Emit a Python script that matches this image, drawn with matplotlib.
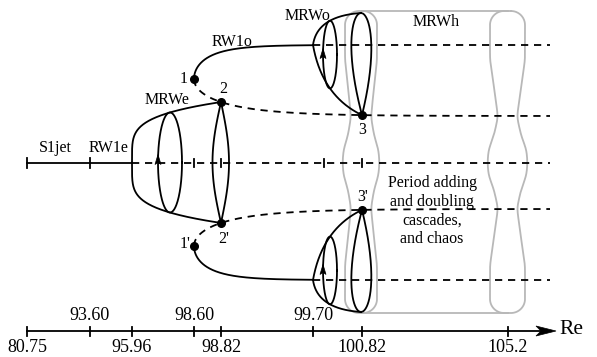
import numpy as np
import matplotlib.pyplot as plt
from matplotlib.patches import Polygon

plt.rcParams['font.family'] = ['Liberation Serif', 'DejaVu Serif']

# Re values written on the (schematic, non-linear) axis and where they sit
lower_labels = ["80.75", "95.96", "98.82", "100.82", "105.2"]
lower_x = [27, 132, 221, 362, 508]
upper_labels = ["93.60", "98.60", "99.70"]
upper_x = [90, 194, 313]
mid_ticks = [194, 221, 324, 362]

# branch levels in the sketch (pixels from the top)
y_mid = 162.5
y_rw1o = 45      # stable RW1o
y_unst = 116     # unstable RW1o
y_fold = 79      # saddle-node point 1

branch_names = ["S1jet", "RW1e", "MRWe", "RW1o", "MRWo", "MRWh"]

pos = dict(zip(lower_labels + upper_labels, lower_x + upper_x))
x_e = pos["95.96"]    # MRWe starts
x1 = pos["98.60"]     # point 1
x2 = pos["98.82"]     # point 2
x_o = pos["99.70"]    # MRWo starts
x3 = pos["100.82"]    # point 3
x_h = pos["105.2"]
x_end = 550

K = "black"
G = "#b8b8b8"
LW = 1.3
DASH = (0, (4, 3.2))


def mir(y):
    return 2 * y_mid - np.asarray(y)


fig = plt.figure(figsize=(5.97, 3.57), dpi=100)
ax = fig.add_axes([0, 0, 1, 1])
ax.set_xlim(0, 597)
ax.set_ylim(357, 0)
ax.axis("off")


def both(x, y, **kw):
    ax.plot(x, y, **kw)
    ax.plot(x, mir(y), **kw)


# ---- gray MRWh columns
def column(xc, w0, wmin, wmax):
    yt, yb, r = 11, 313, 14
    cy = [yt, 60, 90, 117, 135, 150, y_mid]
    d = w0 - wmin
    cw = [w0, w0, wmin + 0.45 * d, wmin, wmin + 0.5 * d, wmax - 1, wmax]
    cy = cy + list(mir(cy[::-1][1:]))
    cw = cw + cw[::-1][1:]
    yy = np.arange(yt, yb + 0.25, 0.5)
    w = np.interp(yy, cy, cw)
    k = np.exp(-0.5 * (np.arange(-20, 21) / 8.0) ** 2)
    w = np.convolve(np.pad(w, 20, mode="edge"), k / k.sum(), mode="valid")
    keep = (yy >= yt + r) & (yy <= yb - r)
    yy, w = yy[keep], w[keep]
    a = np.linspace(0, np.pi / 2, 25)
    xs = list(xc + w0 - r + r * np.sin(a)); ys = list(yt + r - r * np.cos(a))
    xs += list(xc + w); ys += list(yy)
    xs += list(xc + w0 - r + r * np.cos(a)); ys += list(yb - r + r * np.sin(a))
    xs += list(xc - w0 + r - r * np.sin(a)); ys += list(yb - r + r * np.cos(a))
    xs += list(xc - w[::-1]); ys += list(yy[::-1])
    xs += list(xc - w0 + r - r * np.cos(a)); ys += list(yt + r - r * np.sin(a))
    xs.append(xs[0]); ys.append(ys[0])
    ax.plot(xs, ys, color=G, lw=1.3, zorder=1)


column(x3 - 1, 16, 10, 18.5)
column(x_h - 0.5, 17.5, 9.5, 20)
ax.plot([x3, x_h], [11, 11], color=G, lw=1.3, zorder=1)
ax.plot([x3, x_h], [313, 313], color=G, lw=1.3, zorder=1)

# ---- middle line: S1jet / RW1e solid, then dashed
ax.plot([27, x_e], [y_mid, y_mid], color=K, lw=LW)
ax.plot([x_e, x_end], [y_mid, y_mid], color=K, lw=LW, ls=DASH)
for xt in [27, pos["93.60"]]:
    ax.plot([xt, xt], [y_mid - 5, y_mid + 5], color=K, lw=LW)
for xt in mid_ticks:
    ax.plot([xt, xt], [y_mid - 4, y_mid + 4], color=K, lw=LW)

# ---- RW1o branches (saddle-node at point 1)
t = np.linspace(0, 1, 400)
xs = x1 + (x_o - x1) * t ** 2
ys = y_fold - (y_fold - y_rw1o) * np.sqrt(1 - np.exp(-(xs - x1) / 27))
both(xs, ys, color=K, lw=LW)
both([x_o, x_end], [y_rw1o, y_rw1o], color=K, lw=LW, ls=DASH)

xu = x1 + (x_end - x1) * t ** 2
yu = y_fold + (y_unst - y_fold) * np.sqrt(1 - np.exp(-(xu - x1) / 55))
both(xu, yu, color=K, lw=LW, ls=DASH)
y2 = np.interp(x2, xu, yu)
y3 = np.interp(x3, xu, yu)

# ---- MRWe
yy = np.linspace(y_mid, y2, 200)
xx = x_e + (x2 - x_e) * ((y_mid - yy) / (y_mid - y2)) ** 4.5
both(xx, yy, color=K, lw=LW)
xe_c = 170
ye_top = np.interp(xe_c, xx, yy)
a = np.linspace(0, 2 * np.pi, 200)
ax.plot(xe_c + 12 * np.cos(a), y_mid + (y_mid - ye_top) * np.sin(a), color=K, lw=LW)
s = np.linspace(0, 1, 100)
yl = y2 + (mir(y2) - y2) * s
ax.plot(x2 - 8.5 * np.sin(np.pi * s), yl, color=K, lw=LW)
ax.plot(x2 + 8 * np.sin(np.pi * s), yl, color=K, lw=LW)


def head(x, y):
    ax.add_patch(Polygon([(x, y), (x - 3, y + 10), (x, y + 8), (x + 3, y + 10)],
                         closed=True, color=K, lw=0.5, zorder=5))


head(xe_c - 12, y_mid - 8)

# ---- MRWo lobes
def bez(p0, p1, p2):
    return ((1 - t) ** 2 * p0[0] + 2 * t * (1 - t) * p1[0] + t ** 2 * p2[0],
            (1 - t) ** 2 * p0[1] + 2 * t * (1 - t) * p1[1] + t ** 2 * p2[1])


top_y = 13
bxu, byu = bez((x_o, y_rw1o), (x_o + 4, 16), (x3 - 1, top_y))
bxl, byl = bez((x_o, y_rw1o), (x_o + 9, 96), (x3, y3))
both(bxu, byu, color=K, lw=LW)
both(bxl, byl, color=K, lw=LW)
xo_c = 330
yo_t = np.interp(xo_c, bxu, byu)
yo_b = np.interp(xo_c, bxl, byl)
yc = (yo_t + yo_b) / 2
ex = xo_c + 7 * np.cos(a)
ey = yc + (yo_b - yo_t) / 2 * np.sin(a)
both(ex, ey, color=K, lw=LW)
head(xo_c - 7, yc - 6)
head(xo_c - 7, mir(yc) - 6)

# teardrop from the top down to point 3
sd = np.linspace(0, 1, 200)
wd = np.sqrt(sd) * (1 - sd) / 0.385 * 10
yd = top_y + (y3 - top_y) * sd
tx = np.concatenate([x3 - 1 - wd + sd, (x3 - 1 + wd + sd)[::-1]])
ty = np.concatenate([yd, yd[::-1]])
both(tx, ty, color=K, lw=LW)

# ---- points
px = [x1, x2, x3]
py = [y_fold, y2, y3]
both(px, py, ls="none", marker="o", ms=5.5, color=K, zorder=6)

# ---- Re axis
ya = 331
ax.plot([27, 542], [ya, ya], color=K, lw=LW)
ax.add_patch(Polygon([(556, ya), (536, ya - 5), (541, ya), (536, ya + 5)],
                     closed=True, color=K, lw=0.5))
for xt in lower_x + upper_x:
    ax.plot([xt, xt], [ya - 4.5, ya + 4.5], color=K, lw=LW)
for lab, xt in zip(lower_labels, lower_x):
    ax.text(xt, 348, lab, fontsize=13, ha="center", va="center")
for lab, xt in zip(upper_labels, upper_x):
    ax.text(xt, 315, lab, fontsize=13, ha="center", va="center")
ax.text(571, 329, "Re", fontsize=15.5, ha="center", va="center")

# ---- labels
fs = 11.5
name_xy = [(55, 148), (109, 148), (167, 100), (232, 42), (308, 16), (436, 22)]
for nm, (tx_, ty_) in zip(branch_names, name_xy):
    ax.text(tx_, ty_, nm, fontsize=fs, ha="center", va="center")
ax.text(184, 79, "1", fontsize=fs, ha="center", va="center")
ax.text(223, 89, "2", fontsize=fs, ha="center", va="center")
ax.text(224, 239, "2'", fontsize=fs, ha="center", va="center")
ax.text(185, 244, "1'", fontsize=fs, ha="center", va="center")
ax.text(362, 130, "3", fontsize=fs, ha="center", va="center")
ax.text(363, 197, "3'", fontsize=fs, ha="center", va="center")
ax.text(432, 211, "Period adding\nand doubling\ncascades,\nand chaos",
        fontsize=fs, ha="center", va="center", linespacing=1.2)

plt.savefig("out.png", dpi=100)
